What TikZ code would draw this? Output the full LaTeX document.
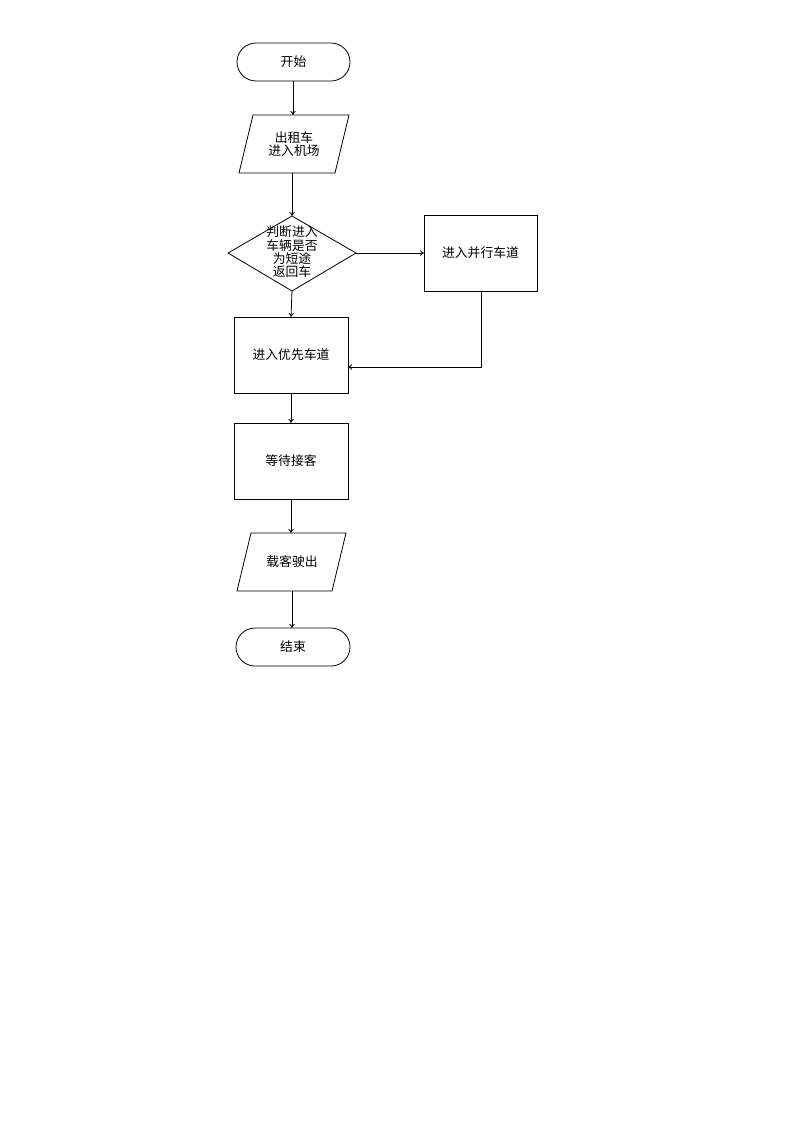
\documentclass[tikz,border=0pt]{standalone}
\usepackage{fontspec}
\newfontfamily\cjk{Noto Sans CJK SC}
\usetikzlibrary{shapes.geometric,arrows.meta}
\begin{document}
\begin{tikzpicture}[x=0.75pt,y=-0.75pt,
  every node/.style={font=\cjk\fontsize{9.6}{10}\selectfont, align=center, inner sep=0pt},
  line/.style={draw=black, line width=0.6pt},
  arr/.style={line, -{To[length=3pt,width=4pt]}},
  term/.style={line, rounded corners=14.25pt},
  box/.style={line}]
\useasboundingbox (0,0) rectangle (794,1123);
% start
\draw[term] (237,43) rectangle (350,81);
\node (start) at (293.5,62) {开始};
\coordinate (startb) at (293,81);
% parallelogram 1
\draw[line] (253,115) -- (349,115) -- (335,173) -- (239,173) -- cycle;
\node (in) at (294,144) {出租车\\进入机场};
\coordinate (inT) at (293,115);
\coordinate (inB) at (292,173);
% diamond
\draw[line] (292,216) -- (356,253) -- (292,291) -- (228,253) -- cycle;
\node (dec) at (292,252) {判断进入\\车辆是否\\为短途\\返回车};
\coordinate (decT) at (292,216);
\coordinate (decB) at (292,291);
\coordinate (decR) at (356,253);
% parallel lane
\draw[box] (424,215) rectangle (537,291);
\node (par) at (480.5,253) {进入并行车道};
\coordinate (parL) at (424,253);
\coordinate (parB) at (481,291);
% priority lane
\draw[box] (234,317) rectangle (348,393);
\node (pri) at (291,355) {进入优先车道};
\coordinate (priT) at (291,317);
\coordinate (priB) at (291,393);
\coordinate (priR) at (348,367);
% wait
\draw[box] (234,423) rectangle (348,499);
\node (wait) at (291,461) {等待接客};
\coordinate (waitT) at (291,423);
\coordinate (waitB) at (291,499);
% parallelogram 2
\draw[line] (251,533) -- (346,533) -- (332,591) -- (237,591) -- cycle;
\node (out) at (292,562) {载客驶出};
\coordinate (outT) at (291,533);
\coordinate (outB) at (292,591);
% end
\draw[term] (236,628) rectangle (350,666);
\node (end) at (293,647) {结束};
\coordinate (endT) at (292,628);
% connectors
\draw[arr] (startb) -- (inT);
\draw[arr] (inB) -- (decT);
\draw[arr] (decR) -- (parL);
\draw[arr] (decB) -- (priT);
\draw[arr] (parB) |- (priR);
\draw[arr] (priB) -- (waitT);
\draw[arr] (waitB) -- (outT);
\draw[arr] (outB) -- (endT);
\end{tikzpicture}
\end{document}
